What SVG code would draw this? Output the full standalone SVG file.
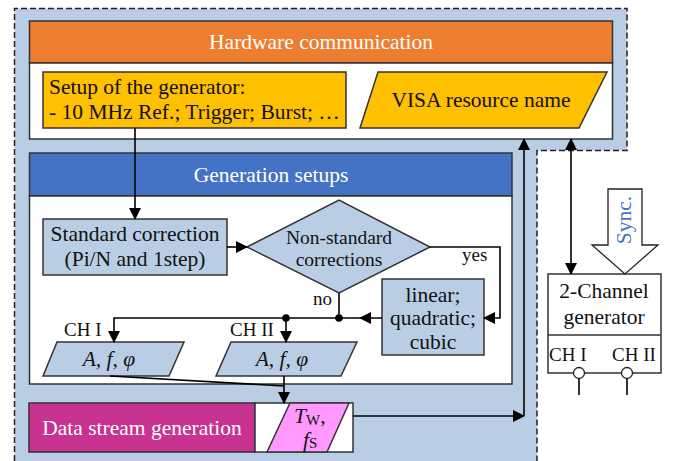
<svg xmlns="http://www.w3.org/2000/svg" width="682" height="461" viewBox="0 0 682 461">
<style>
.box{stroke:#333;stroke-width:1.5}
.ln{fill:none;stroke:#000;stroke-width:1.6}
text{font-family:"Liberation Serif","DejaVu Serif","Times New Roman",serif;font-size:21.5px;fill:#111}
.w{fill:#fff}
.c{text-anchor:middle}
.i{font-style:italic}
.s{font-size:19px}
</style>
<defs>
<marker id="arr" markerUnits="userSpaceOnUse" markerWidth="12" markerHeight="12" refX="11" refY="6" orient="auto-start-reverse" viewBox="0 0 12 12">
<path d="M0,0 L12,6 L0,12 z" fill="#000"/>
</marker>
</defs>
<rect width="682" height="461" fill="#fff"/>
<g id="frame">
<path d="M14.5,470 V8.5 H627 V150.5 H537 V470" fill="#B9CDE5" stroke="#222" stroke-width="1.5" stroke-dasharray="6,3"/>
</g>
<g id="hardware">
<rect class="box" x="29.5" y="21" width="583" height="42" fill="#ED7D31"/>
<rect class="box" x="29.5" y="63" width="583" height="76" fill="#fff"/>
<text class="w c" x="321" y="49">Hardware communication</text>
</g>
<g id="setup">
<rect class="box" x="43" y="72" width="303" height="56" fill="#FFC000"/>
<text x="49" y="94">Setup of the generator:</text>
<text x="49" y="119">- 10 MHz Ref.; Trigger; Burst; …</text>
</g>
<g id="visa">
<polygon class="box" points="378,72 607,72 579,128 360,128" fill="#FFC000"/>
<text class="c" x="481" y="107">VISA resource name</text>
</g>
<g id="generation">
<rect class="box" x="29.5" y="153" width="482.5" height="43" fill="#4472C4"/>
<rect class="box" x="29.5" y="196" width="482.5" height="188" fill="#fff"/>
<text class="w c" x="271" y="182">Generation setups</text>
</g>
<g id="standard">
<rect class="box" x="43" y="219" width="184" height="56" fill="#B9CDE5"/>
<text class="c" x="135" y="241">Standard correction</text>
<text class="c" x="135" y="266">(Pi/N and 1step)</text>
</g>
<g id="decision">
<polygon class="box" points="247,247 339,200 430,247 339,293" fill="#B9CDE5"/>
<text class="c" x="339" y="244" style="font-size:19.5px">Non-standard</text>
<text class="c" x="339" y="266" style="font-size:19.5px">corrections</text>
</g>
<g id="nonstd">
<rect class="box" x="382" y="279" width="102" height="76" fill="#B9CDE5"/>
<text class="c" x="433" y="302">linear;</text>
<text class="c" x="433" y="325">quadratic;</text>
<text class="c" x="433" y="349">cubic</text>
</g>
<g id="ch1">
<polygon class="box" points="57,342 184,342 169,376 43,376" fill="#B9CDE5"/>
<text class="c i" x="109" y="366">A, f, φ</text>
</g>
<g id="ch2">
<polygon class="box" points="231,342 357,342 341,376 216,376" fill="#B9CDE5"/>
<text class="c i" x="282" y="366">A, f, φ</text>
</g>
<g id="datastream">
<rect class="box" x="29" y="403" width="226" height="49" fill="#C83290"/>
<rect class="box" x="255" y="403" width="98" height="49" fill="#fff"/>
<polygon class="box" points="290,403 349,403 327,452 267,452" fill="#FF99FF"/>
<text class="w c" x="142" y="435">Data stream generation</text>
<text x="294" y="423"><tspan class="i">T</tspan><tspan style="font-size:15px" dy="2">W</tspan><tspan dy="-2">,</tspan></text>
<text x="303" y="447"><tspan class="i">f</tspan><tspan style="font-size:15px" dy="1">S</tspan></text>
</g>
<g id="generator">
<rect class="box" x="548" y="274" width="113" height="99" fill="#fff"/>
<line class="box" x1="548" y1="335" x2="661" y2="335"/>
<text class="c" x="604" y="298">2-Channel</text>
<text class="c" x="604" y="324">generator</text>
<text class="s" x="549" y="361">CH I</text>
<text class="s" x="612" y="361">CH II</text>
<line class="ln" x1="579" y1="378" x2="579" y2="395" stroke-width="1.3"/>
<line class="ln" x1="627" y1="378" x2="627" y2="395" stroke-width="1.3"/>
<circle cx="579" cy="373" r="5.5" fill="#fff" stroke="#222" stroke-width="1.3"/>
<circle cx="627" cy="373" r="5.5" fill="#fff" stroke="#222" stroke-width="1.3"/>
</g>
<g id="sync">
<polygon points="608,189 642,189 642,245 658,245 625,274 592,245 608,245" fill="#fff" stroke="#222" stroke-width="1.3"/>
<text class="c" x="0" y="0" style="fill:#4472C4" transform="translate(631,220) rotate(-90)">Sync.</text>
</g>
<g id="connectors">
<line class="ln" x1="135" y1="128" x2="135" y2="219" marker-end="url(#arr)"/>
<line class="ln" x1="227" y1="247" x2="247" y2="247" marker-end="url(#arr)"/>
<polyline class="ln" points="430,247 500,247 500,318 484,318" marker-end="url(#arr)"/>
<text class="s" x="462" y="261">yes</text>
<line class="ln" x1="339" y1="293" x2="339" y2="318"/>
<text class="s" x="313" y="305">no</text>
<polyline class="ln" points="382,318 114,318 114,342" marker-end="url(#arr)"/>
<path d="M359,318 L371,312 L371,324 z" fill="#000"/>
<circle cx="339" cy="318" r="3.8" fill="#000"/>
<circle cx="286" cy="318" r="3.8" fill="#000"/>
<line class="ln" x1="286" y1="318" x2="286" y2="342" marker-end="url(#arr)"/>
<text class="s" x="64" y="336">CH I</text>
<text class="s" x="230" y="336">CH II</text>
<polyline class="ln" points="110,376 284,386" stroke-width="1.3"/>
<line class="ln" x1="284" y1="376" x2="284" y2="403" marker-end="url(#arr)"/>
<line class="ln" x1="353" y1="416" x2="524" y2="416" marker-end="url(#arr)"/>
<line class="ln" x1="524" y1="416" x2="524" y2="139" marker-end="url(#arr)"/>
<line class="ln" x1="571" y1="139" x2="571" y2="274" marker-start="url(#arr)" marker-end="url(#arr)"/>
</g>
</svg>
